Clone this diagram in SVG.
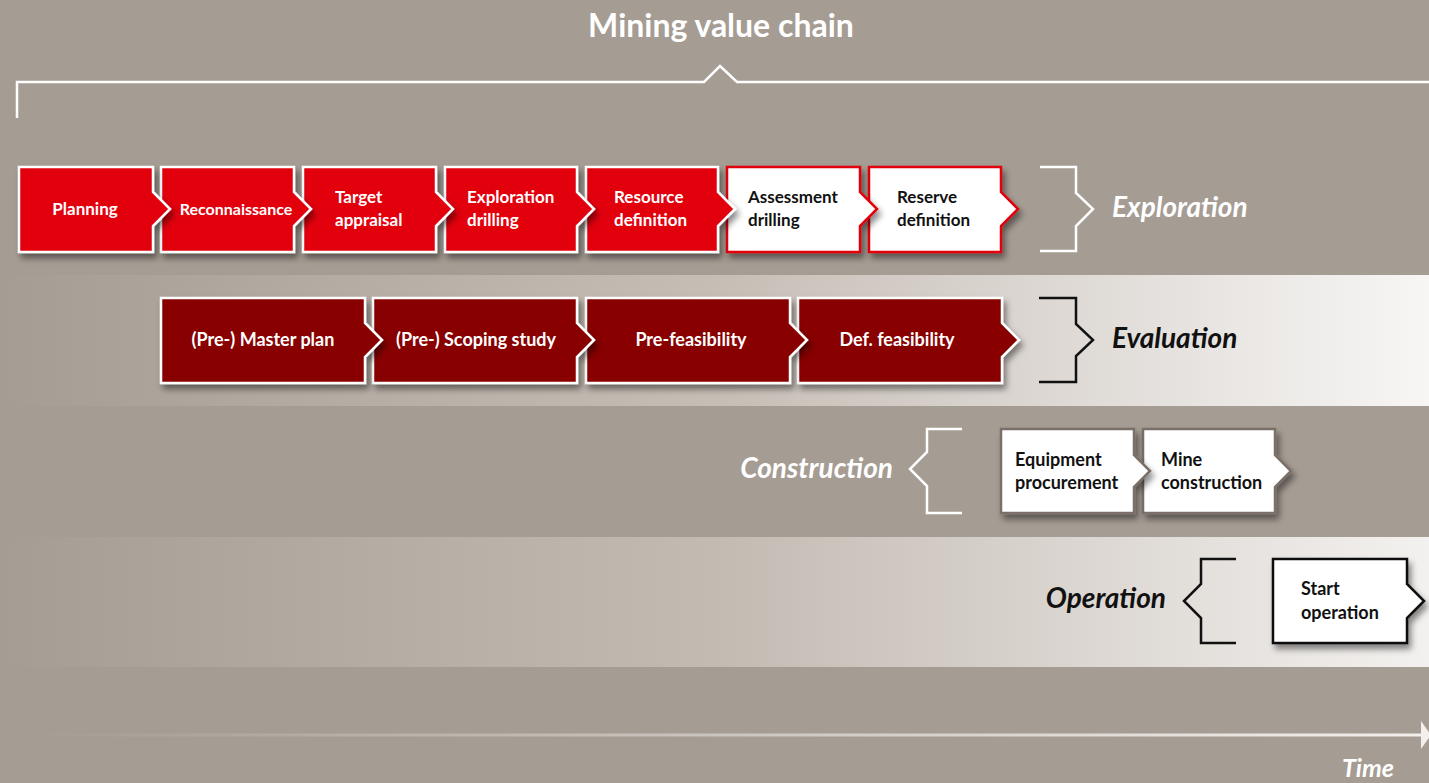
<svg xmlns="http://www.w3.org/2000/svg" width="1429" height="783" viewBox="0 0 1429 783">
  <defs>
    <linearGradient id="bandFade" x1="0" y1="0" x2="1" y2="0">
      <stop offset="0" stop-color="#A59C93"/>
      <stop offset="0.5" stop-color="#C6BDB5"/>
      <stop offset="1" stop-color="#F7F6F5"/>
    </linearGradient>
    <linearGradient id="opFade" x1="0" y1="0" x2="1" y2="0">
      <stop offset="0" stop-color="#A59C93"/>
      <stop offset="0.5" stop-color="#C3BAB2"/>
      <stop offset="1" stop-color="#F3F1EF"/>
    </linearGradient>
    <linearGradient id="timeFade" gradientUnits="userSpaceOnUse" x1="30" y1="0" x2="1422" y2="0">
      <stop offset="0" stop-color="#F2EFEC" stop-opacity="0"/>
      <stop offset="1" stop-color="#F2EFEC" stop-opacity="1"/>
    </linearGradient>
    <filter id="shadow" x="-10%" y="-20%" width="130%" height="150%">
      <feDropShadow dx="3" dy="5" stdDeviation="3" flood-color="#000" flood-opacity="0.45"/>
    </filter>
    <style>
      .bg { fill: #A59C93; }
      .red { fill: #E2000F; stroke: #FFFFFF; stroke-width: 2.5; filter: url(#shadow); }
      .redline { fill: #FFFFFF; stroke: #E2000F; stroke-width: 2.5; filter: url(#shadow); }
      .dark { fill: #880500; stroke: #FFFFFF; stroke-width: 2.5; filter: url(#shadow); }
      .grey { fill: #FFFFFF; stroke: #7A6F67; stroke-width: 2.5; filter: url(#shadow); }
      .black { fill: #FFFFFF; stroke: #111111; stroke-width: 2.5; filter: url(#shadow); }
      .brW { fill: none; stroke: #FFFFFF; stroke-width: 2.5; }
      .brK { fill: none; stroke: #111111; stroke-width: 2.5; }
      text { font-family: Lato, "Open Sans", "Liberation Sans", sans-serif; font-weight: 700; }
      .lw { fill: #FFFFFF; font-size: 17px; }
      .lk { fill: #111111; font-size: 17px; }
      .big { font-size: 18px; }
      .small { font-size: 16px; }
      .phase { font-size: 28px; font-style: italic; }
    </style>
  </defs>

  <!-- background and phase bands -->
  <rect class="bg" x="0" y="0" width="1429" height="783"/>
  <rect x="0" y="275" width="1429" height="131" fill="url(#bandFade)"/>
  <rect x="0" y="537" width="1429" height="130" fill="url(#opFade)"/>

  <!-- title and value-chain brace -->
  <text x="721" y="37" text-anchor="middle" fill="#FFFFFF" font-size="32">Mining value chain</text>
  <path class="brW" d="M17,118 V82 H704 L720,66 L737,82 H1429"/>

  <!-- exploration row (drawn right to left so each tab overlaps its neighbour) -->
  <g id="reserve-definition">
    <polygon class="redline" points="869,167 1001,167 1001,192 1018,209 1001,226 1001,252 869,252"/>
    <text class="lk" x="897" y="203">Reserve</text>
    <text class="lk" x="897" y="226">definition</text>
  </g>
  <g id="assessment-drilling">
    <polygon class="redline" points="727,167 860,167 860,192 877,209 860,226 860,252 727,252"/>
    <text class="lk" x="748" y="203">Assessment</text>
    <text class="lk" x="748" y="226">drilling</text>
  </g>
  <g id="resource-definition">
    <polygon class="red" points="586,167 718,167 718,192 735,209 718,226 718,252 586,252"/>
    <text class="lw" x="614" y="203">Resource</text>
    <text class="lw" x="614" y="226">definition</text>
  </g>
  <g id="exploration-drilling">
    <polygon class="red" points="445,167 577,167 577,192 594,209 577,226 577,252 445,252"/>
    <text class="lw" x="467" y="203">Exploration</text>
    <text class="lw" x="467" y="226">drilling</text>
  </g>
  <g id="target-appraisal">
    <polygon class="red" points="303,167 436,167 436,192 453,209 436,226 436,252 303,252"/>
    <text class="lw" x="335" y="203">Target</text>
    <text class="lw" x="335" y="226">appraisal</text>
  </g>
  <g id="reconnaissance">
    <polygon class="red" points="161,167 294,167 294,192 311,209 294,226 294,252 161,252"/>
    <text class="lw small" x="236" y="215" text-anchor="middle">Reconnaissance</text>
  </g>
  <g id="planning">
    <polygon class="red" points="19,167 153,167 153,192 170,209 153,226 153,252 19,252"/>
    <text class="lw" x="85" y="215" text-anchor="middle">Planning</text>
  </g>
  <g id="exploration">
    <path class="brW" d="M1040,167 H1076 V193 L1093,209 L1076,226 V251 H1040"/>
    <text class="phase" x="1112" y="217" fill="#FFFFFF">Exploration</text>
  </g>

  <!-- evaluation row -->
  <g id="def-feasibility">
    <polygon class="dark" points="798,298 1002,298 1002,323 1019,340 1002,357 1002,383 798,383"/>
    <text class="lw big" x="897" y="346" text-anchor="middle">Def. feasibility</text>
  </g>
  <g id="pre-feasibility">
    <polygon class="dark" points="586,298 790,298 790,323 807,340 790,357 790,383 586,383"/>
    <text class="lw big" x="691" y="346" text-anchor="middle">Pre-feasibility</text>
  </g>
  <g id="scoping-study">
    <polygon class="dark" points="373,298 577,298 577,323 594,340 577,357 577,383 373,383"/>
    <text class="lw big" x="476" y="346" text-anchor="middle">(Pre-) Scoping study</text>
  </g>
  <g id="master-plan">
    <polygon class="dark" points="161,298 365,298 365,323 382,340 365,357 365,383 161,383"/>
    <text class="lw big" x="263" y="346" text-anchor="middle">(Pre-) Master plan</text>
  </g>
  <g id="evaluation">
    <path class="brK" d="M1039,298 H1076 V324 L1093,340 L1076,356 V382 H1039"/>
    <text class="phase" x="1112" y="348" fill="#111111">Evaluation</text>
  </g>

  <!-- construction row -->
  <g id="construction">
    <path class="brW" d="M962,429 H927 V452 L910,469 L927,486 V513 H962"/>
    <text class="phase" x="893" y="478" text-anchor="end" fill="#FFFFFF">Construction</text>
  </g>
  <g id="mine-construction">
    <polygon class="grey" points="1143,429 1275,429 1275,455 1291,471 1275,487 1275,513 1143,513"/>
    <text class="lk big" x="1161" y="466">Mine</text>
    <text class="lk big" x="1161" y="489">construction</text>
  </g>
  <g id="equipment-procurement">
    <polygon class="grey" points="1001,429 1134,429 1134,455 1150,471 1134,487 1134,513 1001,513"/>
    <text class="lk big" x="1015" y="466">Equipment</text>
    <text class="lk big" x="1015" y="489">procurement</text>
  </g>

  <!-- operation row -->
  <g id="operation">
    <path class="brK" d="M1236,559 H1201 V584 L1184,601 L1201,618 V643 H1236"/>
    <text class="phase" x="1166" y="608" text-anchor="end" fill="#111111">Operation</text>
  </g>
  <g id="start-operation">
    <polygon class="black" points="1273,559 1407,559 1407,584 1424,601 1407,618 1407,643 1273,643"/>
    <text class="lk big" x="1301" y="595">Start</text>
    <text class="lk big" x="1301" y="619">operation</text>
  </g>

  <!-- time axis -->
  <g id="connectors">
    <rect x="30" y="733.5" width="1392" height="3" fill="url(#timeFade)"/>
    <polygon points="1421,721 1431,735 1421,749" fill="#F2EFEC"/>
  </g>
  <text x="1394" y="777" text-anchor="end" fill="#FFFFFF" font-size="25" font-style="italic">Time</text>
</svg>
